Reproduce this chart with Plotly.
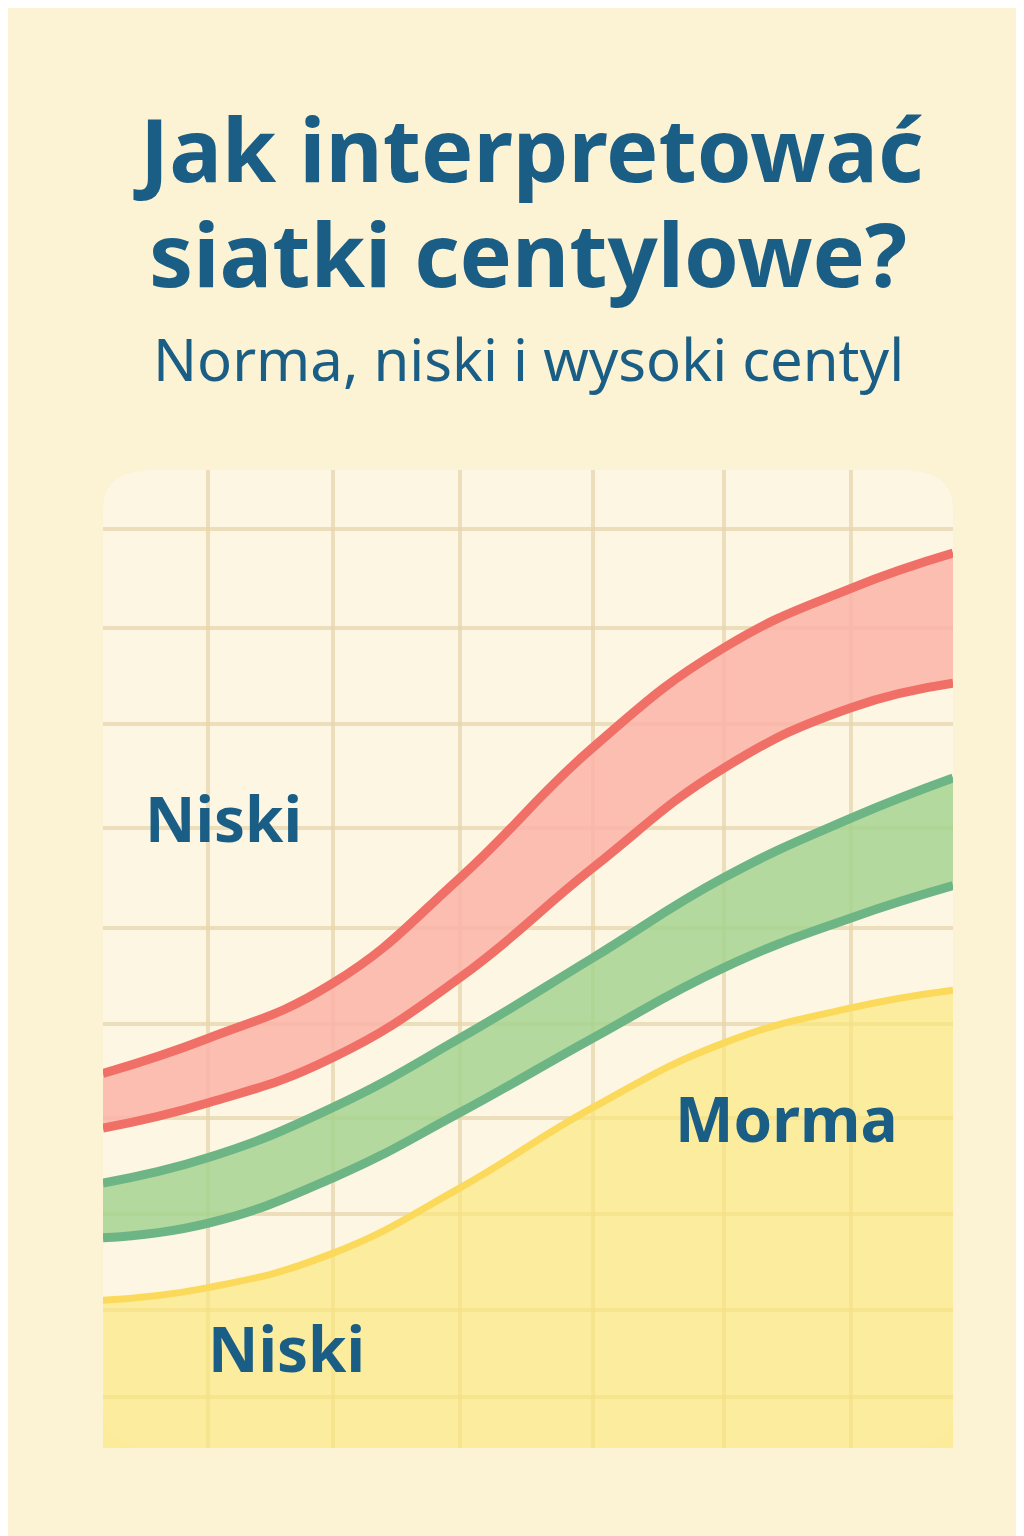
import plotly.graph_objects as go

x = [0, 1.24, 2.7, 4.2, 5.76, 7.3, 8.8, 10]
red_upper = [38.3, 41.9, 47.5, 58.3, 71.6, 81.8, 87.9, 91.5]
red_lower = [32.7, 35.3, 39.9, 48.1, 59.3, 69.5, 75.7, 78.2]
green_upper = [27.1, 29.7, 34.8, 41.9, 50.1, 58.3, 64.4, 68.5]
green_lower = [21.5, 23.0, 27.6, 34.3, 41.9, 49.1, 54.2, 57.5]
yellow = [15.1, 16.4, 19.9, 26.6, 34.8, 41.4, 45.0, 46.8]
grid_x = [1.24, 2.7, 4.2, 5.76, 7.3, 8.8]
grid_y = [5.2, 14.1, 23.9, 33.7, 43.4, 53.2, 63.4, 74.0, 83.8, 94.0]

def ln(c, w):
    return dict(color=c, width=w, shape="spline", smoothing=1.3)

fig = go.Figure()
fig.add_trace(go.Scatter(x=x, y=yellow, mode="lines", line=ln("#fbd95a", 7),
                         fill="tozeroy", fillcolor="rgba(252,230,120,0.65)"))
fig.add_trace(go.Scatter(x=x, y=green_lower, mode="lines", line=ln("#6db585", 9)))
fig.add_trace(go.Scatter(x=x, y=green_upper, mode="lines", line=ln("#6db585", 9),
                         fill="tonexty", fillcolor="rgba(160,210,140,0.8)"))
fig.add_trace(go.Scatter(x=x, y=red_lower, mode="lines", line=ln("#f07068", 9)))
fig.add_trace(go.Scatter(x=x, y=red_upper, mode="lines", line=ln("#f07068", 9),
                         fill="tonexty", fillcolor="rgba(252,180,168,0.85)"))

fig.add_shape(type="path", xref="x", yref="y", layer="below",
              path="M 0.6,0 L 9.4,0 Q 10,0 10,4 L 10,96 Q 10,100 9.4,100 L 0.6,100 Q 0,100 0,96 L 0,4 Q 0,0 0.6,0 Z",
              fillcolor="#fdf6e3", line=dict(width=0))

tc = "#1b5e85"
ann = [
    dict(text="<b>Jak interpretować</b>", y=140, size=88),
    dict(text="<b>siatki centylowe?</b>", y=245, size=88),
    dict(text="Norma, niski i wysoki centyl", y=350, size=58),
]
for a in ann:
    fig.add_annotation(text=a["text"], xref="paper", yref="paper", x=0.5, xanchor="center",
                       y=1 + (462 - a["y"]) / 978, yanchor="middle", showarrow=False,
                       font=dict(size=a["size"], color=tc, family="Noto Sans"))
for t, px, py in [("Niski", 215, 810), ("Morma", 778, 1110), ("Niski", 278, 1340)]:
    fig.add_annotation(text=f"<b>{t}</b>", x=(px - 95) / 85, y=(1440 - py) / 9.78, xref="x", yref="y",
                       showarrow=False, font=dict(size=62, color=tc, family="Noto Sans"))

fig.update_layout(width=1024, height=1536, margin=dict(l=95, r=79, t=462, b=96),
                  paper_bgcolor="#fcf2d4", plot_bgcolor="rgba(0,0,0,0)", showlegend=False)
fig.update_xaxes(range=[0, 10], tickvals=grid_x, showticklabels=False, gridcolor="rgba(230,212,170,0.7)",
                 gridwidth=4, zeroline=False, showline=False)
fig.update_yaxes(range=[0, 100], tickvals=grid_y, showticklabels=False, gridcolor="rgba(230,212,170,0.7)",
                 gridwidth=4, zeroline=False, showline=False)
fig.write_html("out.html")
